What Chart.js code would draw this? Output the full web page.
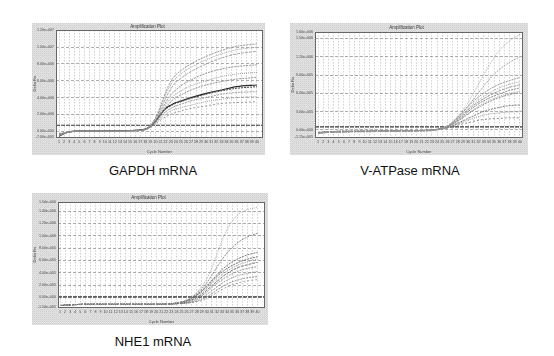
<!DOCTYPE html>
<html><head><meta charset="utf-8">
<script src="https://cdn.jsdelivr.net/npm/chart.js@4.4.1/dist/chart.umd.min.js"></script>
<style>
html,body{margin:0;padding:0;background:#fff;width:554px;height:356px;overflow:hidden;}
canvas{position:absolute;}
.cap{position:absolute;font-family:'Liberation Sans',Arial,sans-serif;font-size:13px;line-height:13px;color:#111;white-space:nowrap;transform:translateX(-50%);}
</style></head><body>
<canvas id="c1" width="233" height="132" style="left:32px;top:23px"></canvas>
<canvas id="c2" width="238" height="132" style="left:290px;top:23px"></canvas>
<canvas id="c3" width="236" height="132" style="left:32px;top:193px"></canvas>
<div class="cap" style="left:153px;top:164px">GAPDH mRNA</div>
<div class="cap" style="left:410px;top:164px">V-ATPase mRNA</div>
<div class="cap" style="left:153px;top:335px">NHE1 mRNA</div>
<script>
// ---------- shared ----------
const cycleTicks = [1,2,3,4,5,6,7,8,9,10,11,12,13,14,15,16,17,18,19,20,21,22,23,24,25,26,27,28,29,30,31,32,33,34,35,36,37,38,39,40];
const panelTitle = 'Amplification Plot';
const xTitle = 'Cycle Number';
const yTitle = 'Delta Rn';

// ---------- GAPDH (values x1e6) ----------
const gapdhCycles = [1,2,3,5,8,12,16,18,19,20,21,22,23,24,25,27,30,33,36,40];
const gapdhA = [-0.5,-0.3,-0.1,0,0,0,0.05,0.2,0.7,1.6,3.0,4.6,5.9,6.7,7.2,8.0,8.9,9.6,10.1,10.4];
const gapdhB = [-0.5,-0.3,-0.1,0,0,0,0.05,0.2,0.65,1.5,2.8,4.3,5.5,6.3,6.8,7.6,8.5,9.2,9.7,10.0];
const gapdhC = [-0.5,-0.3,-0.1,0,0,0,0.05,0.2,0.6,1.4,2.6,3.9,5.0,5.8,6.3,7.1,8.0,8.7,9.2,9.5];
const gapdhD = [-0.4,-0.25,-0.1,0,0,0,0.05,0.2,0.6,1.3,2.3,3.4,4.3,4.9,5.4,6.1,6.9,7.4,7.7,7.9];
const gapdhE = [-0.4,-0.25,-0.1,0,0,0,0.05,0.2,0.55,1.2,2.1,3.1,3.9,4.4,4.8,5.4,6.0,6.5,6.8,7.0];
const gapdhF = [-0.4,-0.2,-0.1,0,0,0,0.05,0.2,0.55,1.1,1.9,2.8,3.5,4.0,4.3,4.9,5.5,5.9,6.2,6.4];
const gapdhG = [-0.6,-0.3,-0.1,0,0,0.05,0.1,0.25,0.6,1.2,2.0,2.7,3.1,3.4,3.6,4.0,4.5,4.9,5.3,5.5];
const gapdhH = [-0.6,-0.3,-0.1,0,0,0.05,0.1,0.25,0.55,1.1,1.9,2.6,3.0,3.3,3.5,3.9,4.4,4.8,5.1,5.3];
const gapdhI = [-0.3,-0.2,-0.05,0,0,0,0.05,0.2,0.5,1.0,1.7,2.3,2.7,3.0,3.2,3.6,4.0,4.4,4.6,4.7];
const gapdhJ = [-0.3,-0.2,-0.05,0,0,0,0.05,0.15,0.45,0.9,1.5,2.0,2.4,2.6,2.8,3.1,3.5,3.8,4.0,4.1];
const gapdhK = [-0.3,-0.2,-0.05,0,0,0,0.05,0.15,0.4,0.8,1.3,1.7,2.0,2.2,2.4,2.7,3.0,3.3,3.4,3.5];
const gapdhThreshold = 0.7;
const gapdhYTicks = [-0.7,0,2,4,6,8,10,12];
const gapdhYLabels = ['-7.00e+005','0.00e+000','2.00e+006','4.00e+006','6.00e+006','8.00e+006','1.00e+007','1.20e+007'];

// ---------- V-ATPase (values x1e5) ----------
const vCycles = [1,3,6,10,15,20,23,25,26,27,28,29,30,31,32,34,36,38,40];
const vA = [-0.6,-0.4,-0.3,-0.3,-0.2,-0.2,-0.1,0.2,0.6,1.3,2.3,3.3,4.5,6.0,7.5,10.5,13.0,14.6,15.7];
const vB = [-0.6,-0.4,-0.3,-0.3,-0.2,-0.2,-0.1,0.2,0.6,1.2,2.0,2.9,3.9,5.0,6.1,8.2,9.9,11.1,12.0];
const vC = [-0.5,-0.4,-0.3,-0.2,-0.2,-0.1,0,0.3,0.7,1.3,2.1,3.0,3.9,4.7,5.4,6.6,7.5,8.1,8.6];
const vD = [-0.5,-0.4,-0.3,-0.2,-0.2,-0.1,0,0.3,0.7,1.2,1.9,2.7,3.5,4.3,4.9,6.0,6.9,7.5,7.9];
const vE = [-0.5,-0.4,-0.3,-0.2,-0.2,-0.1,0,0.3,0.6,1.1,1.8,2.5,3.3,4.0,4.6,5.6,6.4,7.0,7.4];
const vF = [-0.5,-0.3,-0.3,-0.2,-0.2,-0.1,0,0.25,0.6,1.0,1.6,2.3,3.0,3.7,4.3,5.2,5.9,6.5,6.9];
const vG = [-0.5,-0.3,-0.3,-0.2,-0.2,-0.1,0,0.25,0.55,1.0,1.5,2.1,2.7,3.3,3.9,4.8,5.5,6.0,6.3];
const vH = [-0.5,-0.3,-0.2,-0.2,-0.2,-0.1,0,0.2,0.5,0.9,1.4,2.0,2.6,3.2,3.7,4.6,5.3,5.8,6.1];
const vI = [-0.4,-0.3,-0.2,-0.2,-0.1,-0.1,0,0.2,0.4,0.7,1.1,1.5,1.9,2.3,2.7,3.3,3.7,4.0,4.1];
const vJ = [-0.4,-0.3,-0.2,-0.2,-0.1,-0.1,0,0.2,0.4,0.7,1.0,1.3,1.6,1.9,2.2,2.6,2.8,2.95,3.0];
const vK = [-0.4,-0.3,-0.2,-0.2,-0.1,-0.1,0,0.15,0.3,0.5,0.8,1.0,1.2,1.4,1.6,1.8,1.9,2.0,2.0];
const vThreshold = 0.5;
const vYTicks = [-1.15,0,3,6,9,12,15,16];
const vYLabels = ['-1.15e+005','0.00e+000','3.00e+005','6.00e+005','9.00e+005','1.20e+006','1.50e+006','1.60e+006'];

// ---------- NHE1 (values x1e5) ----------
const nCycles = [1,3,6,10,15,20,24,26,27,28,29,30,31,32,33,34,36,38,40];
const nA = [-1.3,-1.2,-1.1,-1.1,-1.1,-1.1,-0.9,-0.4,0.1,0.8,1.8,3.0,4.8,7.0,9.2,11.0,13.3,14.2,14.6];
const nB = [-1.3,-1.2,-1.1,-1.1,-1.1,-1.1,-0.9,-0.5,0,0.6,1.4,2.4,3.6,4.9,6.1,7.2,8.8,9.8,10.4];
const nC = [-1.3,-1.2,-1.1,-1.1,-1.1,-1.1,-0.9,-0.5,-0.1,0.4,1.1,1.9,2.8,3.7,4.5,5.2,6.2,6.9,7.3];
const nD = [-1.3,-1.2,-1.1,-1.1,-1.1,-1.1,-0.9,-0.5,-0.1,0.4,1.0,1.8,2.6,3.4,4.1,4.7,5.6,6.2,6.6];
const nE = [-1.3,-1.2,-1.1,-1.1,-1.1,-1.1,-1.0,-0.6,-0.3,0.2,0.8,1.5,2.3,3.0,3.7,4.3,5.2,5.8,6.2];
const nF = [-1.3,-1.2,-1.1,-1.1,-1.1,-1.1,-1.0,-0.7,-0.4,0,0.5,1.2,1.9,2.6,3.3,3.9,4.8,5.3,5.7];
const nG = [-1.3,-1.2,-1.1,-1.1,-1.1,-1.1,-1.0,-0.8,-0.5,-0.2,0.3,0.9,1.6,2.3,2.9,3.4,4.2,4.7,5.0];
const nH = [-1.3,-1.2,-1.1,-1.1,-1.1,-1.1,-1.0,-0.9,-0.7,-0.4,0,0.5,1.1,1.7,2.3,2.8,3.5,3.9,4.2];
const nI = [-1.3,-1.2,-1.1,-1.1,-1.1,-1.1,-1.0,-0.9,-0.8,-0.6,-0.3,0.1,0.6,1.2,1.7,2.2,2.8,3.2,3.4];
const nJ = [-1.3,-1.2,-1.1,-1.1,-1.1,-1.1,-1.0,-0.9,-0.8,-0.7,-0.5,-0.2,0.3,0.8,1.3,1.7,2.3,2.7,2.9];
const nThreshold = 0.1;
const nYTicks = [-1.54,0,2,4,6,8,10,12,14,15.4];
const nYLabels = ['-1.54e+005','0.00e+000','2.00e+005','4.00e+005','6.00e+005','8.00e+005','1.00e+006','1.20e+006','1.40e+006','1.54e+006'];

// ---------- styles (kept apart from data) ----------
const gapdhStyles = [
  {c:'#8c8c8c',d:[2,1],w:0.9},{c:'#9a9a9a',d:[1,1],w:0.9},{c:'#9e9e9e',d:[3,1],w:0.9},
  {c:'#888888',d:[2,1],w:0.9},{c:'#959595',d:[1,1],w:0.9},{c:'#8a8a8a',d:[2,1],w:0.9},
  {c:'#2a2a2a',d:[],w:1.1},{c:'#4a4a4a',d:[2,1],w:1},{c:'#8e8e8e',d:[2,1],w:0.9},
  {c:'#9a9a9a',d:[1,1],w:0.9},{c:'#8c8c8c',d:[2,2],w:0.9}
];
const vStyles = [
  {c:'#a0a0a0',d:[1,1],w:0.9},{c:'#9a9a9a',d:[2,1],w:0.9},{c:'#8a8a8a',d:[2,1],w:0.9},
  {c:'#969696',d:[1,1],w:0.9},{c:'#8e8e8e',d:[3,1],w:0.9},{c:'#7c7c7c',d:[2,1],w:0.9},
  {c:'#9a9a9a',d:[1,1],w:0.9},{c:'#888888',d:[2,1],w:0.9},{c:'#6e6e6e',d:[2,1],w:0.9},
  {c:'#8a8a8a',d:[1,1],w:0.9},{c:'#7a7a7a',d:[2,2],w:0.9}
];
const nStyles = [
  {c:'#a4a4a4',d:[1,1],w:0.9},{c:'#7c7c7c',d:[2,1],w:0.9},{c:'#6a6a6a',d:[2,1],w:0.9},
  {c:'#5a5a5a',d:[2,1],w:0.9},{c:'#8a8a8a',d:[1,1],w:0.9},{c:'#666666',d:[3,1],w:0.9},
  {c:'#909090',d:[2,1],w:0.9},{c:'#777777',d:[1,1],w:0.9},{c:'#888888',d:[2,1],w:0.9},
  {c:'#9a9a9a',d:[2,2],w:0.9}
];
const FONT = "'Liberation Sans', Arial, sans-serif";

function hatchPattern(ctx){
  const p = document.createElement('canvas'); p.width = 2; p.height = 2;
  const g = p.getContext('2d');
  g.fillStyle = '#e4e4e4'; g.fillRect(0,0,2,2);
  g.fillStyle = '#cdcdcd'; g.fillRect(0,0,1,1);
  g.fillStyle = '#d8d8d8'; g.fillRect(1,1,1,1);
  return ctx.createPattern(p,'repeat');
}
const bgPlugin = {
  id:'bgpanel',
  beforeDraw(chart){
    const {ctx,width,height,chartArea:a} = chart;
    ctx.save();
    ctx.fillStyle = hatchPattern(ctx); ctx.fillRect(0,0,width,height);
    ctx.fillStyle = '#fff'; ctx.fillRect(a.left,a.top,a.right-a.left,a.bottom-a.top);
    ctx.restore();
  },
  afterDraw(chart){
    const {ctx,chartArea:a} = chart;
    ctx.save(); ctx.strokeStyle = '#666'; ctx.lineWidth = 1;
    ctx.strokeRect(Math.round(a.left)+0.5, Math.round(a.top)+0.5, Math.round(a.right-a.left)-1, Math.round(a.bottom-a.top));
    ctx.restore();
  }
};

function build(id, cfg){
  const ds = cfg.series.map((vals,i)=>{
    const s = cfg.styles[i % cfg.styles.length];
    return {data: cfg.cycles.map((c,k)=>({x:c,y:vals[k]})), borderColor:s.c, borderDash:s.d, borderWidth:s.w,
      pointRadius:0, cubicInterpolationMode:'monotone', fill:false};
  });
  ds.push({data:[{x:cfg.xmin,y:cfg.thr},{x:cfg.xmax,y:cfg.thr}], borderColor:'#333', borderDash:[4,1], borderWidth:1.2, pointRadius:0});
  new Chart(document.getElementById(id), {
    type:'line',
    data:{datasets:ds},
    plugins:[bgPlugin],
    options:{
      responsive:false, animation:false, devicePixelRatio:1, events:[],
      layout:{padding:{left:0,right:cfg.padRight,top:0,bottom:0}},
      plugins:{legend:{display:false}, tooltip:{enabled:false},
        title:{display:true,text:panelTitle,color:'#333',font:{size:4.5,family:FONT,weight:'normal'},padding:{top:cfg.tp,bottom:cfg.tb}}},
      scales:{
        x:{type:'linear',min:cfg.xmin,max:cfg.xmax,
          afterBuildTicks:s=>{s.ticks = cycleTicks.map(v=>({value:v}));},
          afterFit:s=>{s.height = cfg.xh;},
          ticks:{autoSkip:false,maxRotation:0,color:'#444',font:{size:3.6,family:FONT},padding:3},
          grid:{color:'#8a8a8a',lineWidth:0.6,drawTicks:false},
          border:{display:false,dash:[1,2]},
          title:{display:true,text:xTitle,color:'#444',font:{size:4,family:FONT},padding:{top:0,bottom:1}}},
        y:{type:'linear',min:cfg.ymin,max:cfg.ymax,
          afterBuildTicks:s=>{s.ticks = cfg.yTicks.map(v=>({value:v}));},
          afterFit:s=>{s.width = cfg.yw;},
          ticks:{autoSkip:false,color:'#444',font:{size:3.6,family:FONT},padding:2,callback:(v,i)=>cfg.yLabels[i]},
          grid:{color:'#8a8a8a',lineWidth:0.7,drawTicks:false},
          border:{display:false,dash:[3,2]},
          title:{display:true,text:yTitle,color:'#444',font:{size:4,family:FONT},padding:{top:0,bottom:0}}}
      }
    }
  });
}

build('c1',{cycles:gapdhCycles,series:[gapdhA,gapdhB,gapdhC,gapdhD,gapdhE,gapdhF,gapdhG,gapdhH,gapdhI,gapdhJ,gapdhK],styles:gapdhStyles,
  thr:gapdhThreshold,yTicks:gapdhYTicks,yLabels:gapdhYLabels,ymin:-0.7,ymax:12,xmin:0.4,xmax:41.2,
  yw:24,xh:18,padRight:2,tp:1,tb:1});
build('c2',{cycles:vCycles,series:[vA,vB,vC,vD,vE,vF,vG,vH,vI,vJ,vK],styles:vStyles,
  thr:vThreshold,yTicks:vYTicks,yLabels:vYLabels,ymin:-1.15,ymax:16,xmin:0.42,xmax:40.6,
  yw:25,xh:18,padRight:5,tp:2,tb:2});
build('c3',{cycles:nCycles,series:[nA,nB,nC,nD,nE,nF,nG,nH,nI,nJ],styles:nStyles,
  thr:nThreshold,yTicks:nYTicks,yLabels:nYLabels,ymin:-1.54,ymax:15.4,xmin:0.6,xmax:41.5,
  yw:26,xh:18,padRight:3,tp:2,tb:2});
</script>
</body></html>
